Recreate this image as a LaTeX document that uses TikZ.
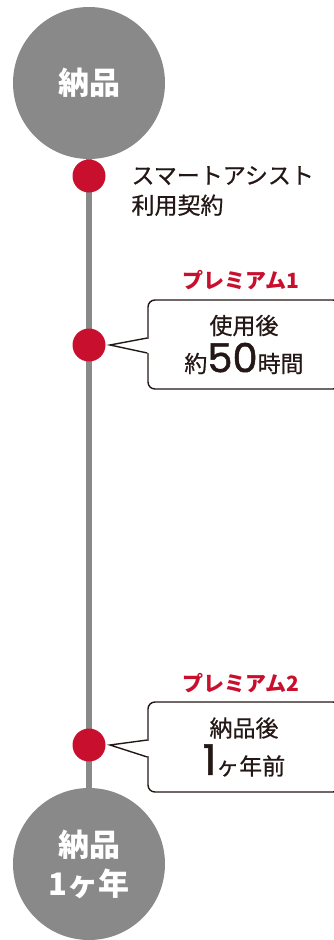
\documentclass[tikz,border=0pt]{standalone}
\usepackage{fontspec}
\setmainfont{Noto Sans CJK JP}
\newfontfamily\medfont[FakeBold=0.6]{Noto Sans CJK JP}
\newfontfamily\numfont[FakeBold=1.2]{Poppins}
\definecolor{premred}{HTML}{C8102E}
\definecolor{discgray}{HTML}{898989}
\definecolor{inkblack}{HTML}{231815}
\begin{document}
\begin{tikzpicture}[x=1pt,y=-1pt,
    disc/.style={circle,fill=discgray,minimum size=152pt,inner sep=0pt,text=white,align=center,font=\bfseries\fontsize{31}{39}\selectfont},
    reddot/.style={circle,fill=premred,minimum size=33pt,inner sep=0pt},
    bubble/.style={draw=inkblack,line width=1.4pt,rounded corners=7pt,fill=white,minimum width=192pt,align=center,text=inkblack,font=\medfont\fontsize{23}{38}\selectfont},
    premlabel/.style={text=premred,font=\bfseries\fontsize{21}{21}\selectfont},
    pointer/.style={draw=inkblack,line width=1.4pt,line join=miter}]
    \useasboundingbox (0,0) rectangle (334,940);

    \coordinate (start) at (89,83);
    \coordinate (end) at (89,864);
    \draw [discgray,line width=6.5pt](start) -- (end);

    \node[disc] (deliv) at (start) {納品};
    \node[disc] (deliv1y) at (end) {納品\\1ヶ年};
    \node[reddot] (dot0) at (89,176) {};
    \node[reddot] (dot1) at (89,345) {};
    \node[reddot] (dot2) at (89,745) {};

    \node[anchor=west,align=left,text=inkblack,font=\medfont\fontsize{23}{30}\selectfont] (contract) at (128,191) {スマートアシスト\\利用契約};

    \node[premlabel] (prem1) at (241,280) {プレミアム1};
    \node[bubble,minimum height=89pt] (box1) at (244,344.5) {使用後\\約{\numfont\fontsize{40}{38}\selectfont 50}時間};
    \coordinate (tip1) at (110,345);
    \fill [white]([xshift=-1.5pt,yshift=6pt]box1.west) rectangle ([xshift=1.5pt,yshift=-8pt]box1.west);
    \draw [pointer]([yshift=6.5pt]box1.west) -- (tip1) -- ([yshift=-8.5pt]box1.west);

    \node[premlabel] (prem2) at (241,683) {プレミアム2};
    \node[bubble,minimum height=90pt] (box2) at (244,747) {納品後\\{\numfont\fontsize{42}{38}\selectfont 1}ヶ年前};
    \coordinate (tip2) at (110,745);
    \fill [white]([xshift=-1.5pt,yshift=6pt]box2.west) rectangle ([xshift=1.5pt,yshift=-9pt]box2.west);
    \draw [pointer]([yshift=7pt]box2.west) -- (tip2) -- ([yshift=-10pt]box2.west);

\end{tikzpicture}
\end{document}
